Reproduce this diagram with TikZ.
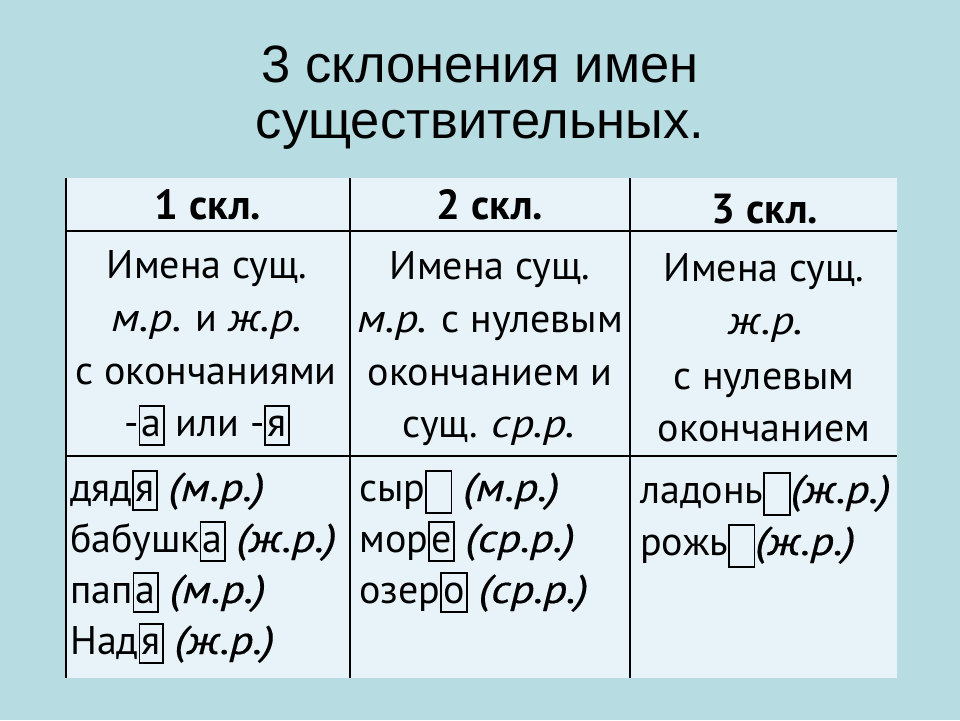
\documentclass[tikz,border=0pt]{standalone}
\usepackage{fontspec}
\setmainfont{PT Sans}[ItalicFeatures={FakeStretch=1.15}]
\newfontfamily\exfont{PT Sans}[ItalicFeatures={FakeStretch=1.17,FakeBold=0.35}]
\newfontfamily\titlefont{Liberation Sans}
\definecolor{bgteal}{RGB}{183,221,227}
\definecolor{cellbg}{RGB}{231,243,248}
\newcommand\bx[1]{{\setlength\fboxsep{0pt}\setlength\fboxrule{1.6pt}\fbox{\rule[-8pt]{0pt}{37pt}\hspace{1.5pt}#1\hspace{1.5pt}}}}
\newcommand\ebx{{\setlength\fboxsep{0pt}\setlength\fboxrule{1.6pt}\fbox{\rule[-11pt]{0pt}{40pt}\hspace{24pt}}}}
\newcommand\exi[1]{{\exfont\itshape #1}}
\begin{document}
\begin{tikzpicture}[x=1pt,y=-1pt,
  ttl/.style={font=\titlefont\fontsize{52.5}{60}\selectfont, anchor=base, inner sep=0pt},
  hdr/.style={font=\fontsize{42}{48}\selectfont\bfseries, anchor=base, inner sep=0pt},
  body/.style={font=\fontsize{40}{46}\selectfont, anchor=base, inner sep=0pt},
  bodyl/.style={body, anchor=base west},
  gridline/.style={line width=2.2pt, black}]
\useasboundingbox (0,0) rectangle (960,720);
\fill[bgteal] (0,0) rectangle (960,720);
\fill[cellbg] (65,178) rectangle (897,678);
\draw[gridline] (65,231) -- (897,231);
\draw[gridline] (65,456) -- (897,456);
\draw[gridline] (66,178) -- (66,678);
\draw[gridline] (350,178) -- (350,678);
\draw[gridline] (630,178) -- (630,678);
% title
\node[ttl] (t1) at (480,82) {3 склонения имен};
\node[ttl] (t2) at (480,138) {существительных.};
% headers
\node[hdr] (h1) at (208,219) {1 скл.};
\node[hdr] (h2) at (490,219) {2 скл.};
\node[hdr] (h3) at (765,223) {3 скл.};
% column 1 rule
\node[body] (a1) at (207,278) {Имена сущ.};
\node[body] (a2) at (207,331) {\textit{м.р.} и \textit{ж.р.}};
\node[body] (a3) at (206,384) {с окончаниями};
\node[body] (a4) at (207,436) {-\bx{а} или -\bx{я}};
% column 2 rule
\node[body] (b1) at (490,279) {Имена сущ.};
\node[body] (b2) at (490,332) {\textit{м.р.} с нулевым};
\node[body] (b3) at (490,385) {окончанием и};
\node[body] (b4) at (489,437) {сущ. \textit{ср.р.}};
% column 3 rule
\node[body] (c1) at (764,281) {Имена сущ.};
\node[body] (c2) at (766,334) {\textit{ж.р.}};
\node[body] (c3) at (764,389) {с нулевым};
\node[body] (c4) at (764,441) {окончанием};
% examples column 1
\node[bodyl] (d1) at (70,501) {дяд\bx{я} \exi{(м.р.)}};
\node[bodyl] (d2) at (70,552) {бабушк\bx{а} \exi{(ж.р.)}};
\node[bodyl] (d3) at (70,603) {пап\bx{а} \exi{(м.р.)}};
\node[bodyl] (d4) at (70,654) {Над\bx{я} \exi{(ж.р.)}};
% examples column 2
\node[bodyl] (e1) at (359,501) {сыр\ebx{} \exi{(м.р.)}};
\node[bodyl] (e2) at (359,552) {мор\bx{е} \exi{(ср.р.)}};
\node[bodyl] (e3) at (359,603) {озер\bx{о} \exi{(ср.р.)}};
% examples column 3
\node[bodyl] (f1) at (640,503) {ладонь\ebx\exi{(ж.р.)}};
\node[bodyl] (f2) at (640,555) {рожь\ebx\exi{(ж.р.)}};
\end{tikzpicture}
\end{document}
